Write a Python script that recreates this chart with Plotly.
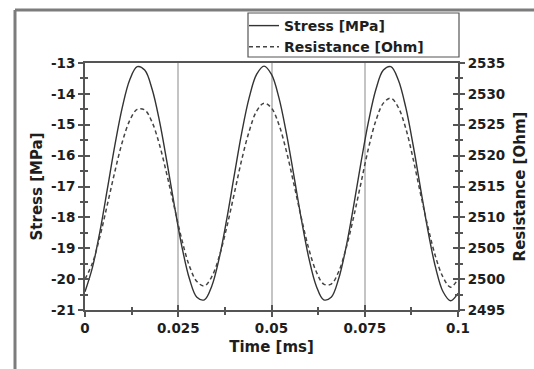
import plotly.graph_objects as go

# ---- data ----
time_ms = [0.000, 0.002, 0.004, 0.006, 0.008, 0.010, 0.012, 0.014, 0.016, 0.018,
           0.020, 0.022, 0.024, 0.026, 0.028, 0.030, 0.032, 0.034, 0.036, 0.038,
           0.040, 0.042, 0.044, 0.046, 0.048, 0.050, 0.052, 0.054, 0.056, 0.058,
           0.060, 0.062, 0.064, 0.066, 0.068, 0.070, 0.072, 0.074, 0.076, 0.078,
           0.080, 0.082, 0.084, 0.086, 0.088, 0.090, 0.092, 0.094, 0.096, 0.098,
           0.100]

stress_mpa = [-20.41, -19.62, -18.46, -17.08, -15.67, -14.44, -13.54, -13.12, -13.23, -13.85,
              -14.90, -16.23, -17.64, -18.96, -19.99, -20.59, -20.67, -20.22, -19.31, -18.06,
              -16.65, -15.27, -14.13, -13.37, -13.10, -13.37, -14.13, -15.28, -16.65, -18.06,
              -19.31, -20.22, -20.67, -20.59, -19.99, -18.96, -17.64, -16.22, -14.90, -13.85,
              -13.23, -13.12, -13.55, -14.44, -15.68, -17.09, -18.47, -19.63, -20.41, -20.70,
              -20.46]

resistance_ohm = [2500.0, 2502.6, 2506.9, 2512.1, 2517.4, 2522.2, 2525.7, 2527.5, 2527.4, 2525.4,
                  2521.7, 2516.8, 2511.5, 2506.3, 2502.1, 2499.6, 2498.9, 2500.4, 2503.7, 2508.4,
                  2513.8, 2519.3, 2523.9, 2527.2, 2528.5, 2527.7, 2525.0, 2520.7, 2515.4, 2509.9,
                  2504.9, 2501.2, 2499.2, 2499.2, 2501.2, 2505.0, 2510.0, 2515.6, 2521.2, 2525.7,
                  2528.5, 2529.3, 2527.8, 2524.4, 2519.4, 2513.7, 2508.3, 2503.6, 2500.3, 2498.7,
                  2500.0]

x_tickvals = [0, 0.025, 0.05, 0.075, 0.1]
x_ticktext = ["0", "0.025", "0.05", "0.075", "0.1"]
stress_tickvals = [-21, -20, -19, -18, -17, -16, -15, -14, -13]
stress_ticktext = ["-21", "-20", "-19", "-18", "-17", "-16", "-15", "-14", "-13"]
res_tickvals = [2495, 2500, 2505, 2510, 2515, 2520, 2525, 2530, 2535]
res_ticktext = ["2495", "2500", "2505", "2510", "2515", "2520", "2525", "2530", "2535"]

FONT = "DejaVu Sans"
AX = "#555555"
TXT = "#1e1e1e"

# plot-area pixel geometry (window 534x369)
L, R, T, B = 85, 76, 63, 59
PW, PH = 534 - L - R, 369 - T - B


def px_x(px):
    return (px - L) / PW


def px_y(py):
    return 1 + (T - py) / PH


fig = go.Figure()
fig.add_trace(go.Scatter(x=time_ms, y=stress_mpa, name="Stress [MPa]", mode="lines",
                         line=dict(color="#333333", width=1.4, shape="spline"),
                         xaxis="x", yaxis="y"))
fig.add_trace(go.Scatter(x=time_ms, y=resistance_ohm, name="Resistance [Ohm]", mode="lines",
                         line=dict(color="#444444", width=1.5, dash="4px,3px", shape="spline"),
                         xaxis="x", yaxis="y2"))
# invisible traces to hold the inside-tick overlay axes
fig.add_trace(go.Scatter(x=[None], y=[None], xaxis="x3", yaxis="y3", showlegend=False, hoverinfo="skip"))
fig.add_trace(go.Scatter(x=[None], y=[None], xaxis="x3", yaxis="y4", showlegend=False, hoverinfo="skip"))

tickfont = dict(family=FONT, size=13.5, color=TXT, weight="bold")
titlefont = dict(family=FONT, size=15, color=TXT, weight="bold")

fig.update_layout(
    width=534, height=369,
    margin=dict(l=L, r=R, t=T, b=B, autoexpand=False),
    paper_bgcolor="white", plot_bgcolor="white",
    font=dict(family=FONT, size=13, color=TXT, weight="bold"),
    xaxis=dict(range=[0, 0.1], tickmode="array", tickvals=x_tickvals, ticktext=x_ticktext,
               ticks="outside", ticklen=5, tickwidth=1.5, tickcolor=AX,
               minor=dict(dtick=0.0125, tick0=0, ticks="outside", ticklen=3, tickwidth=1.5, tickcolor=AX, showgrid=False),
               showline=True, linecolor=AX, linewidth=2, mirror=True,
               showgrid=True, gridcolor="#c4c4c4", gridwidth=2,
               zeroline=False, tickfont=tickfont,
               title=dict(text="Time [ms]", font=titlefont, standoff=6)),
    xaxis3=dict(range=[0, 0.1], overlaying="x", anchor="y", tickmode="array", tickvals=x_tickvals,
                ticks="inside", ticklen=5, tickwidth=1.5, tickcolor=AX,
                minor=dict(dtick=0.0125, tick0=0, ticks="inside", ticklen=3, tickwidth=1.5, tickcolor=AX, showgrid=False),
                showticklabels=False, showline=False, showgrid=False, zeroline=False),
    yaxis=dict(range=[-21, -13], tickmode="array", tickvals=stress_tickvals, ticktext=stress_ticktext,
               ticks="outside", ticklen=5, tickwidth=1.5, tickcolor=AX,
               minor=dict(dtick=0.5, tick0=0, ticks="outside", ticklen=3, tickwidth=1.5, tickcolor=AX, showgrid=False),
               showline=True, linecolor=AX, linewidth=2, showgrid=False, zeroline=False,
               tickfont=tickfont,
               title=dict(text="Stress [MPa]", font=titlefont, standoff=5)),
    yaxis3=dict(range=[-21, -13], overlaying="y", anchor="x", tickmode="array", tickvals=stress_tickvals,
                ticks="inside", ticklen=5, tickwidth=1.5, tickcolor=AX,
                minor=dict(dtick=0.5, tick0=0, ticks="inside", ticklen=3, tickwidth=1.5, tickcolor=AX, showgrid=False),
                showticklabels=False, showline=False, showgrid=False, zeroline=False),
    yaxis2=dict(range=[2495, 2535], overlaying="y", side="right", anchor="x", tickmode="array",
                tickvals=res_tickvals, ticktext=res_ticktext,
                ticks="outside", ticklen=5, tickwidth=1.5, tickcolor=AX,
                minor=dict(dtick=2.5, tick0=0, ticks="outside", ticklen=3, tickwidth=1.5, tickcolor=AX, showgrid=False),
                showline=True, linecolor=AX, linewidth=2, showgrid=False, zeroline=False,
                tickfont=tickfont,
                title=dict(text="Resistance [Ohm]", font=titlefont, standoff=10)),
    yaxis4=dict(range=[2495, 2535], overlaying="y", side="right", anchor="x", tickmode="array",
                tickvals=res_tickvals,
                ticks="inside", ticklen=5, tickwidth=1.5, tickcolor=AX,
                minor=dict(dtick=2.5, tick0=0, ticks="inside", ticklen=3, tickwidth=1.5, tickcolor=AX, showgrid=False),
                showticklabels=False, showline=False, showgrid=False, zeroline=False),
    legend=dict(x=px_x(244), xanchor="left", y=px_y(10), yanchor="top",
                bgcolor="rgba(0,0,0,0)", borderwidth=0,
                font=dict(family=FONT, size=14, color=TXT, weight="bold"),
                tracegroupgap=0, itemwidth=30),
    showlegend=True,
)

# legend frame (wider than the entries, as in the reference)
fig.add_shape(type="rect", xref="paper", yref="paper",
              x0=px_x(248), x1=px_x(459), y0=px_y(57), y1=px_y(13),
              line=dict(color=AX, width=1.2), fillcolor="white", layer="above")

# outer figure frame (left and top edges visible in the crop)
fig.add_shape(type="line", xref="paper", yref="paper", x0=px_x(15), x1=px_x(15), y0=px_y(400), y1=px_y(10),
              line=dict(color="#7c7c7c", width=3))
fig.add_shape(type="line", xref="paper", yref="paper", x0=px_x(15), x1=px_x(560), y0=px_y(10), y1=px_y(10),
              line=dict(color="#7c7c7c", width=3))

fig.write_html("out.html", config={"displayModeBar": False},
               post_script="document.body.style.margin='0';")
